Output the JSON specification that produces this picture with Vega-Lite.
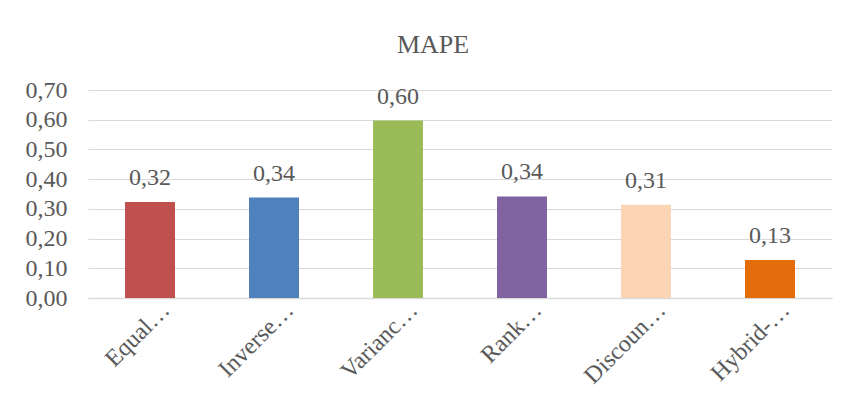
{
  "$schema": "https://vega.github.io/schema/vega-lite/v6.json",
  "width": 744,
  "height": 208,
  "autosize": {"type": "none"},
  "padding": {"left": 88, "top": 90, "right": 18, "bottom": 113},
  "background": "white",
  "title": {"text": "MAPE", "font": "Liberation Serif", "fontSize": 26, "fontWeight": "normal", "color": "#595959", "anchor": "middle", "dx": -27, "offset": 20},
  "data": {"values": [
    {"method": "Equal…", "mape": 0.323, "label": "0,32", "color": "#C0504D"},
    {"method": "Inverse…", "mape": 0.338, "label": "0,34", "color": "#4F81BD"},
    {"method": "Varianc…", "mape": 0.597, "label": "0,60", "color": "#9BBB59"},
    {"method": "Rank…", "mape": 0.342, "label": "0,34", "color": "#8064A2"},
    {"method": "Discoun…", "mape": 0.314, "label": "0,31", "color": "#FCD5B5"},
    {"method": "Hybrid-…", "mape": 0.128, "label": "0,13", "color": "#E46C0A"}
  ]},
  "encoding": {
    "x": {"field": "method", "type": "nominal", "sort": null,
      "scale": {"paddingInner": 0.597, "paddingOuter": 0.2985},
      "axis": {"title": null, "labelAngle": -45, "labelAlign": "right", "labelBaseline": "middle", "labelFont": "Liberation Serif", "labelFontSize": 24, "labelColor": "#595959", "ticks": false, "domainColor": "#d9d9d9", "domainWidth": 1.5, "labelPadding": 8, "labelOffset": 16, "labelLimit": 200}},
    "y": {"field": "mape", "type": "quantitative",
      "scale": {"domain": [0, 0.7], "nice": false},
      "axis": {"title": null, "values": [0, 0.1, 0.2, 0.3, 0.4, 0.5, 0.6, 0.7], "labelExpr": "replace(format(datum.value, '.2f'), '.', ',')", "labelFont": "Liberation Serif", "labelFontSize": 24, "labelColor": "#595959", "ticks": false, "domain": false, "gridColor": "#d9d9d9", "gridWidth": 1, "labelPadding": 21}}
  },
  "layer": [
    {"mark": {"type": "bar"}, "encoding": {"color": {"field": "color", "type": "nominal", "scale": null}}},
    {"mark": {"type": "text", "font": "Liberation Serif", "fontSize": 24, "color": "#595959", "baseline": "alphabetic", "dy": -17}, "encoding": {"text": {"field": "label"}}}
  ],
  "config": {"view": {"stroke": null}}
}
